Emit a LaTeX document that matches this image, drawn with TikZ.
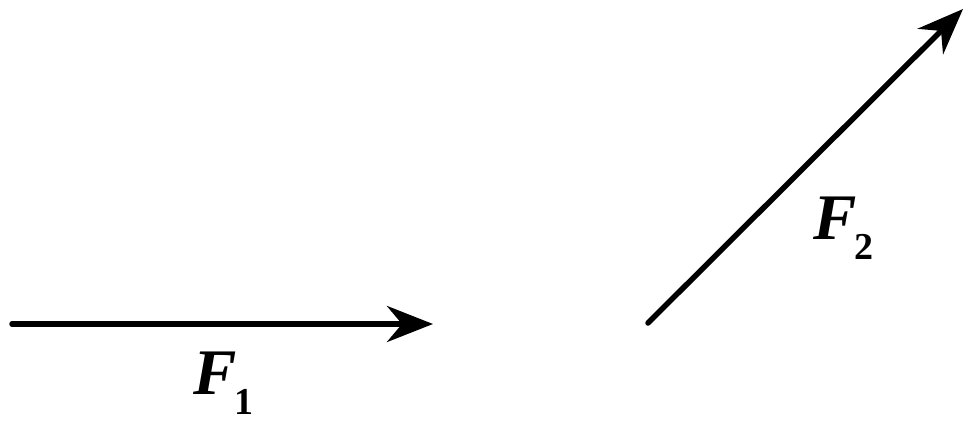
\documentclass[tikz,border=0pt]{standalone}
\usepackage{fontspec}
\setmainfont{Liberation Serif}
\usetikzlibrary{arrows.meta}
\newcommand{\vecsub}[1]{\raisebox{-20pt}{\fontsize{38}{40}\selectfont\bfseries #1}}
\begin{document}
\begin{tikzpicture}[x=1pt,y=-1pt,
  vec/.style={line width=5.5pt, line cap=round, -{Stealth[length=46pt,width=36pt,inset=15pt]}},
  lab/.style={inner sep=0pt, anchor=base west, font=\fontsize{65}{70}\selectfont}]
\useasboundingbox (0,0) rectangle (976,428);
\coordinate (a1) at (12,324);
\coordinate (b1) at (433,324);
\coordinate (a2) at (648,323);
\coordinate (b2) at (963,9);
\draw[vec] (a1) -- (b1);
\draw[vec] (a2) -- (b2);
\node[lab] (f1) at (193,394) {\textbf{\textit{F}}\kern-2pt\vecsub{1}};
\node[lab] (f2) at (813,239) {\textbf{\textit{F}}\kern-2pt\vecsub{2}};
\end{tikzpicture}
\end{document}
